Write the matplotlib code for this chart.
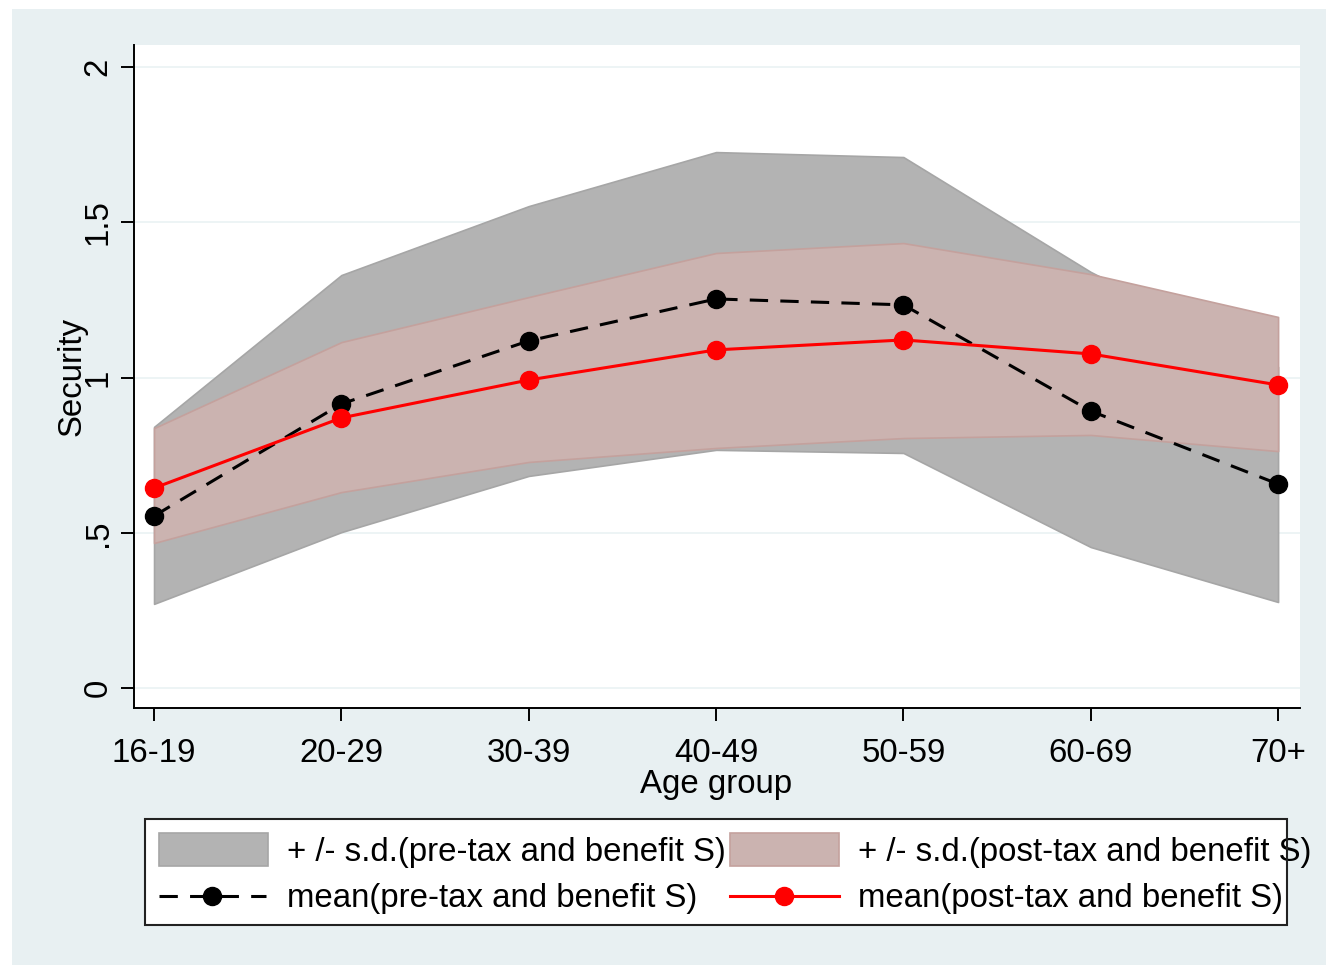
import matplotlib
matplotlib.use("Agg")
import matplotlib.pyplot as plt
from matplotlib.patches import Rectangle
from matplotlib.lines import Line2D

# -----------------------------
# Datos
# -----------------------------
age_groups = ["16-19", "20-29", "30-39", "40-49", "50-59", "60-69", "70+"]

pre_mean = [0.554, 0.915, 1.118, 1.253, 1.234, 0.892, 0.657]
pre_upper = [0.841, 1.330, 1.552, 1.726, 1.710, 1.340, 1.034]
pre_lower = [0.271, 0.502, 0.683, 0.767, 0.757, 0.454, 0.277]

post_mean = [0.644, 0.870, 0.992, 1.089, 1.121, 1.076, 0.976]
post_upper = [0.837, 1.114, 1.259, 1.401, 1.433, 1.333, 1.195]
post_lower = [0.467, 0.631, 0.728, 0.773, 0.805, 0.815, 0.763]

y_ticks = [0, 0.5, 1, 1.5, 2]
y_tick_labels = ["0", ".5", "1", "1.5", "2"]

legend_labels = ["+ /- s.d.(pre-tax and benefit S)",
                 "+ /- s.d.(post-tax and benefit S)",
                 "mean(pre-tax and benefit S)",
                 "mean(post-tax and benefit S)"]

# -----------------------------
# Estilo
# -----------------------------
W, H = 1334, 968
plt.rcParams['font.family'] = ['Liberation Sans', 'DejaVu Sans']
FS = 23.8
BG = '#E8F0F2'
GRAY = '#B3B3B3'
GRAY_EDGE = '#A6A6A6'
PINK = '#CBB3B0'
PINK_EDGE = '#C4A19D'
RED = '#FF0000'
DASH = (0, (6, 4))


def fx(px):
    return px / W


def fy(py):
    return 1 - py / H


fig = plt.figure(figsize=(W / 100, H / 100), dpi=100, facecolor='white')

# fondo de la region del grafico (estilo Stata)
bg = Rectangle((fx(12), fy(965)), fx(1326) - fx(12), fy(9) - fy(965),
               transform=fig.transFigure, facecolor=BG, edgecolor='none', zorder=-1)
fig.add_artist(bg)

ax = fig.add_axes([fx(134), fy(708), fx(1300) - fx(134), fy(45) - fy(708)])
ax.set_facecolor('white')

x = list(range(len(age_groups)))

# bandas +/- s.d.
ax.fill_between(x, pre_lower, pre_upper, facecolor=GRAY, edgecolor=GRAY_EDGE,
                linewidth=1.2, zorder=2)
ax.fill_between(x, post_lower, post_upper, facecolor=PINK, edgecolor=PINK_EDGE,
                linewidth=1.2, zorder=3)

# medias
ax.plot(x, pre_mean, color='black', linestyle=DASH, linewidth=2.2,
        marker='o', markersize=13, zorder=4)
ax.plot(x, post_mean, color=RED, linestyle='-', linewidth=2.2,
        marker='o', markersize=13, zorder=5)

# ejes
ax.set_xlim(-0.107, 6.117)
ax.set_ylim(-0.0644, 2.0709)
ax.set_xticks(x)
ax.set_xticklabels(age_groups, fontsize=FS)
ax.set_yticks(y_ticks)
ax.set_yticklabels(y_tick_labels, fontsize=FS, rotation=90, va='center')
ax.tick_params(axis='both', length=9.5, width=1.4, color='black')
ax.tick_params(axis='x', pad=12)
ax.tick_params(axis='y', pad=5)
for s in ['top', 'right']:
    ax.spines[s].set_visible(False)
for s in ['left', 'bottom']:
    ax.spines[s].set_linewidth(1.4)
    ax.spines[s].set_color('black')

ax.yaxis.grid(True, color='#EAF2F3', linewidth=1.2, zorder=0)
ax.set_axisbelow(True)

ax.set_xlabel("Age group", fontsize=FS)
ax.xaxis.set_label_coords((716 - 134) / 1166, (708 - 785) / 663)
ax.xaxis.label.set_va('center')
ax.set_ylabel("Security", fontsize=FS)
ax.yaxis.set_label_coords((72 - 134) / 1166, (708 - 377) / 663)
ax.yaxis.label.set_va('center')

# -----------------------------
# Leyenda (dibujada a mano, como en Stata)
# -----------------------------
box_face = Rectangle((fx(145), fy(925)), fx(1287) - fx(145), fy(819) - fy(925),
                     transform=fig.transFigure, facecolor='white', edgecolor='none', zorder=5)
fig.add_artist(box_face)

row1, row2 = 853, 899
key_row2 = 896
for (x0, x1, fc, ec) in [(159, 268, GRAY, GRAY_EDGE), (730, 839, PINK, PINK_EDGE)]:
    fig.add_artist(Rectangle((fx(x0), fy(866)), fx(x1) - fx(x0), fy(833) - fy(866),
                             transform=fig.transFigure, facecolor=fc, edgecolor=ec,
                             linewidth=1.2, zorder=6))

fig.add_artist(Line2D([fx(159), fx(212), fx(266)], [fy(key_row2)] * 3, transform=fig.transFigure,
                      color='black', linestyle=DASH, linewidth=2.2, marker='o',
                      markersize=13, markevery=[1], zorder=6))
fig.add_artist(Line2D([fx(730), fx(784), fx(839)], [fy(key_row2)] * 3, transform=fig.transFigure,
                      color=RED, linestyle='-', linewidth=2.2, marker='o',
                      markersize=13, markevery=[1], zorder=6))

fig.text(fx(287), fy(row1), legend_labels[0], fontsize=FS, va='center', ha='left', zorder=6)
fig.text(fx(858), fy(row1), legend_labels[1], fontsize=FS, va='center', ha='left', zorder=6)
fig.text(fx(287), fy(row2), legend_labels[2], fontsize=FS, va='center', ha='left', zorder=6)
fig.text(fx(858), fy(row2), legend_labels[3], fontsize=FS, va='center', ha='left', zorder=6)

box_edge = Rectangle((fx(145), fy(925)), fx(1287) - fx(145), fy(819) - fy(925),
                     transform=fig.transFigure, facecolor='none', edgecolor='#222222',
                     linewidth=1.5, zorder=7)
fig.add_artist(box_edge)

plt.savefig("out.png", dpi=100, facecolor='white')
plt.close()
